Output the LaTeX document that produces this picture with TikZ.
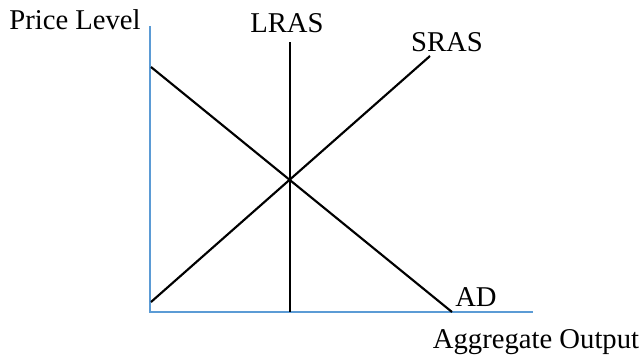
\documentclass[tikz,border=0pt]{standalone}
\usepackage{fontspec}
\setmainfont{Liberation Serif}
\usepackage{xcolor}
\usepackage{tikz}
\definecolor{axisblue}{RGB}{91,155,213}
\tikzset{
  curve/.style={line width=1.6pt, black},
  axis/.style={line width=0.8pt, axisblue},
  lbl/.style={font=\fontsize{21.5}{24}\selectfont, inner sep=0pt}
}
\begin{document}
\begin{tikzpicture}[x=0.75pt, y=-0.75pt]
            \useasboundingbox (0,0) rectangle (643,358);
            % axes
            \coordinate (O) at (150,312);
            \coordinate (ytop) at (150,26);
            \coordinate (xend) at (533,312);
            \draw[axis] (ytop) -- (O) -- (xend);
            % curves
            \coordinate (adtop) at (151,67);
            \coordinate (adbot) at (452,312);
            \coordinate (srasbot) at (151,302);
            \coordinate (srastop) at (430,56);
            \coordinate (lrastop) at (290,42);
            \coordinate (lrasbot) at (290,312);
            \draw[curve] (adtop) -- (adbot);
            \draw[curve] (srasbot) -- (srastop);
            \draw[curve] (lrastop) -- (lrasbot);
            % labels
            \node[lbl] (pricelvl) at (75,20) {Price Level};
            \node[lbl] (lras) at (287,23) {LRAS};
            \node[lbl] (sras) at (447,42) {SRAS};
            \node[lbl] (ad) at (476,297) {AD};
            \node[lbl] (aggout) at (536,342) {Aggregate Output};
        \end{tikzpicture}
\end{document}
